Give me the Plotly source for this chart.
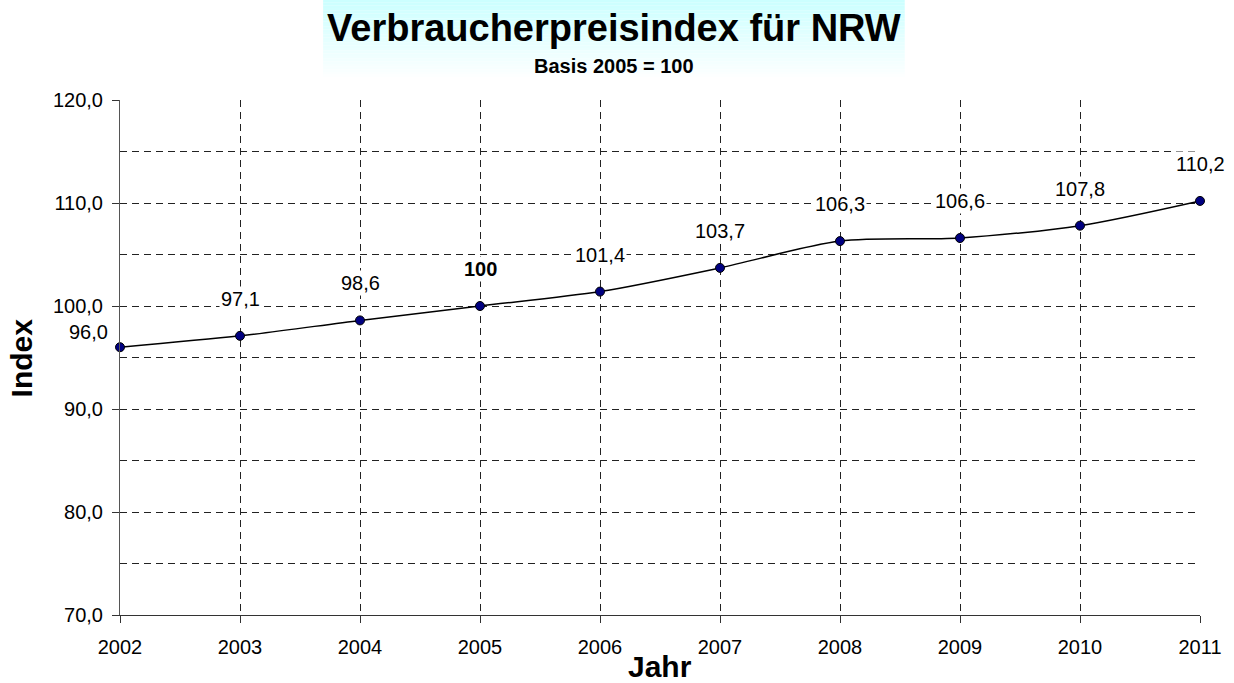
import plotly.graph_objects as go

years = [2002, 2003, 2004, 2005, 2006, 2007, 2008, 2009, 2010, 2011]
index_values = [96.0, 97.1, 98.6, 100.0, 101.4, 103.7, 106.3, 106.6, 107.8, 110.2]
label_texts = ["96,0", "97,1", "98,6", "<b>100</b>", "101,4", "103,7", "106,3", "106,6", "107,8", "110,2"]
y_tickvals = [70, 80, 90, 100, 110, 120]
y_ticktext = ["70,0", "80,0", "90,0", "100,0", "110,0", "120,0"]

title_text = "<b>Verbraucherpreisindex für NRW</b>"
subtitle_text = "<b>Basis 2005 = 100</b>"
x_title = "<b>Jahr</b>"
y_title = "<b>Index</b>"

FONT = "Liberation Sans, Arial, Helvetica, sans-serif"
W, H = 1234, 683
ML, MR, MT, MB = 120, 24, 100, 68
PW = W - ML - MR
PH = H - MT - MB

def px_to_paper_x(px):
    return (px - ML) / PW

def px_to_paper_y(py):
    return (H - MB - py) / PH

fig = go.Figure()
fig.add_trace(go.Scatter(
    x=years, y=index_values, mode="lines+markers",
    line=dict(color="black", width=1.5, shape="spline", smoothing=0.8),
    marker=dict(size=9, color="#000080", line=dict(color="black", width=1)),
    hoverinfo="x+y", showlegend=False, cliponaxis=False,
))

annotations = []
for i, (xv, yv, t) in enumerate(zip(years, index_values, label_texts)):
    if i == 0:
        xs, ys = -32, 15
    else:
        xs, ys = 0, 37
    annotations.append(dict(
        x=xv, y=yv, xref="x", yref="y", text=t, showarrow=False,
        xshift=xs, yshift=ys, bgcolor="white", borderpad=1,
        font=dict(family=FONT, size=20, color="black"),
    ))

# Title and subtitle
annotations.append(dict(
    xref="paper", yref="paper", x=px_to_paper_x(619), y=px_to_paper_y(28),
    text=title_text, showarrow=False, xanchor="center", yanchor="middle",
    font=dict(family=FONT, size=38, color="black"),
))
annotations.append(dict(
    xref="paper", yref="paper", x=px_to_paper_x(619), y=px_to_paper_y(66),
    text=subtitle_text, showarrow=False, xanchor="center", yanchor="middle",
    font=dict(family=FONT, size=20, color="black"),
))
# Axis titles
annotations.append(dict(
    xref="paper", yref="paper", x=px_to_paper_x(21), y=0.5,
    text=y_title, showarrow=False, textangle=-90, xanchor="center", yanchor="middle",
    font=dict(family=FONT, size=30, color="black"),
))
annotations.append(dict(
    xref="paper", yref="paper", x=0.5, y=px_to_paper_y(666),
    text=x_title, showarrow=False, xanchor="center", yanchor="middle",
    font=dict(family=FONT, size=30, color="black"),
))

# Gradient box behind the title
shapes = []
n = 30
top, bottom = 0, 80
x0, x1 = px_to_paper_x(325), px_to_paper_x(912)
for k in range(n):
    f = k / (n - 1)
    r = int(0xcc + (255 - 0xcc) * f)
    col = f"rgb({r},255,255)"
    ya = top + (bottom - top) * k / n
    yb = top + (bottom - top) * (k + 1) / n
    shapes.append(dict(type="rect", xref="paper", yref="paper",
                       x0=x0, x1=x1, y0=px_to_paper_y(yb), y1=px_to_paper_y(ya),
                       fillcolor=col, line=dict(width=0), layer="below"))

fig.update_layout(
    width=W, height=H, autosize=False,
    margin=dict(l=ML, r=MR, t=MT, b=MB, pad=0),
    paper_bgcolor="white", plot_bgcolor="white",
    font=dict(family=FONT, size=20, color="black"),
    annotations=annotations, shapes=shapes,
    xaxis=dict(
        range=[2002, 2011], tickvals=years, ticktext=[str(y) for y in years],
        showgrid=True, gridcolor="#222", griddash="7px,5px", gridwidth=1,
        showline=True, linecolor="#333", linewidth=1,
        ticks="outside", ticklen=7, tickcolor="#333",
        ticklabelstandoff=7, zeroline=False,
        tickfont=dict(family=FONT, size=20, color="black"),
    ),
    yaxis=dict(
        range=[70, 120], tickvals=y_tickvals, ticktext=y_ticktext,
        showgrid=True, gridcolor="#222", griddash="7px,5px", gridwidth=1,
        minor=dict(dtick=5, tick0=70, showgrid=True, gridcolor="#222",
                   griddash="7px,5px", gridwidth=1, ticks=""),
        showline=True, linecolor="#555", linewidth=1,
        ticks="outside", ticklen=7, tickcolor="#333",
        ticklabelstandoff=5, zeroline=False,
        tickfont=dict(family=FONT, size=20, color="black"),
    ),
)

fig.write_html("out.html", config={"displayModeBar": False},
               post_script="document.body.style.margin='0px';")
